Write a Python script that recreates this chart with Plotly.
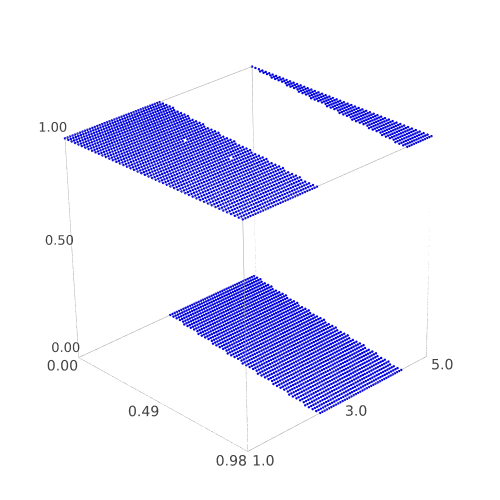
import plotly.graph_objects as go

# grid levels
x_levels = [0.00, 0.02, 0.04, 0.06, 0.08, 0.10, 0.12, 0.14, 0.16, 0.18,
            0.20, 0.22, 0.24, 0.26, 0.28, 0.30, 0.32, 0.34, 0.36, 0.38,
            0.40, 0.42, 0.44, 0.46, 0.48, 0.50, 0.52, 0.54, 0.56, 0.58,
            0.60, 0.62, 0.64, 0.66, 0.68, 0.70, 0.72, 0.74, 0.76, 0.78,
            0.80, 0.82, 0.84, 0.86, 0.88, 0.90, 0.92, 0.94, 0.96, 0.98]
y_levels = [1.00, 1.05, 1.10, 1.15, 1.20, 1.25, 1.30, 1.35, 1.40, 1.45,
            1.50, 1.55, 1.60, 1.65, 1.70, 1.75, 1.80, 1.85, 1.90, 1.95,
            2.00, 2.05, 2.10, 2.15, 2.20, 2.25, 2.30, 2.35, 2.40, 2.45,
            2.50, 2.55, 2.60, 2.65, 2.70, 2.75, 2.80, 2.85, 2.90, 2.95,
            3.00, 3.05, 3.10, 3.15, 3.20, 3.25, 3.30, 3.35, 3.40, 3.45,
            3.50, 3.55, 3.60, 3.65, 3.70, 3.75, 3.80, 3.85, 3.90, 3.95,
            4.00, 4.05, 4.10, 4.15, 4.20, 4.25, 4.30, 4.35, 4.40, 4.45,
            4.50, 4.55, 4.60, 4.65, 4.70, 4.75, 4.80, 4.85, 4.90, 4.95, 5.00]

# for each x level: where the output drops to 0 and where it comes back to 1
drop_y = [2.95, 2.95, 2.95, 2.95, 2.95, 2.90, 2.90, 2.90, 2.90, 2.90,
          2.85, 2.85, 2.85, 2.85, 2.85, 2.80, 2.80, 2.80, 2.80, 2.80,
          2.75, 2.75, 2.75, 2.75, 2.75, 2.70, 2.70, 2.70, 2.70, 2.70,
          2.65, 2.65, 2.65, 2.65, 2.65, 2.60, 2.60, 2.60, 2.60, 2.60,
          2.55, 2.55, 2.55, 2.55, 2.55, 2.50, 2.50, 2.50, 2.50, 2.50]
rise_y = [5.00, 5.00, 5.00, 4.95, 4.95, 4.95, 4.95, 4.90, 4.90, 4.90,
          4.90, 4.90, 4.85, 4.85, 4.85, 4.85, 4.80, 4.80, 4.80, 4.80,
          4.75, 4.75, 4.75, 4.75, 4.75, 4.70, 4.70, 4.70, 4.70, 4.65,
          4.65, 4.65, 4.65, 4.60, 4.60, 4.60, 4.60, 4.60, 4.55, 4.55,
          4.55, 4.55, 4.50, 4.50, 4.50, 4.50, 4.45, 4.45, 4.45, 4.45]

# points missing from the top sheet
missing = [(0.34, 2.25), (0.58, 2.30)]

x_range = [0, 0.98]
y_range = [1, 5]
z_range = [0, 1]
z_ticks = [0, 0.5, 1]
z_tick_text = ["0.00", "0.50", "1.00"]

x_vals, y_vals, z_vals = [], [], []
for x, drop, rise in zip(x_levels, drop_y, rise_y):
    for y in y_levels:
        if (x, y) in missing:
            continue
        x_vals.append(x)
        y_vals.append(y)
        z_vals.append(0.0 if drop < y < rise else 1.0)

# plotly only draws the silhouette of the box, so the 12 edges go in as a trace
edge_x, edge_y, edge_z = [], [], []
for a in x_range:
    for b in y_range:
        edge_x += [a, a, None]
        edge_y += [b, b, None]
        edge_z += [z_range[0], z_range[1], None]
for a in x_range:
    for c in z_range:
        edge_x += [a, a, None]
        edge_y += [y_range[0], y_range[1], None]
        edge_z += [c, c, None]
for b in y_range:
    for c in z_range:
        edge_x += [x_range[0], x_range[1], None]
        edge_y += [b, b, None]
        edge_z += [c, c, None]

tick_font = dict(family="DejaVu Sans", size=13, color="#444444")

fig = go.Figure()
fig.add_trace(go.Scatter3d(
    x=edge_x, y=edge_y, z=edge_z, mode="lines",
    line=dict(color="#a0a0a0", width=1), hoverinfo="skip",
))
fig.add_trace(go.Scatter3d(
    x=x_vals, y=y_vals, z=z_vals, mode="markers",
    marker=dict(size=1.4, color="#0000dd", line=dict(width=0)),
))
# z labels sit above the left edge, plotly's own would collide with the x axis ones
# 0.085 nudges the text anchor in along x so it lands next to the edge
fig.add_trace(go.Scatter3d(
    x=[0.085] * len(z_ticks), y=[y_range[0]] * len(z_ticks), z=z_ticks,
    mode="text", text=z_tick_text, textposition="top left", textfont=tick_font,
    hoverinfo="skip",
))

axis_style = dict(
    title="", showgrid=False, zeroline=False, showbackground=False, showspikes=False,
    showline=False, ticks="", ticklen=0, tickwidth=0, tickangle=0, tickfont=tick_font,
)

# the reference has a very long lens, plotly's fov is fixed, so render on a big
# canvas from far away and show only the middle of it
fig.update_layout(
    width=1800, height=1800,
    margin=dict(l=0, r=0, t=0, b=0),
    paper_bgcolor="white",
    showlegend=False,
    scene=dict(
        xaxis=dict(range=x_range, tickvals=[0, 0.49, 0.98], ticktext=["0.00", "0.49", "0.98"], **axis_style),
        yaxis=dict(range=y_range, tickvals=[1, 3, 5], ticktext=["1.0", "3.0", "5.0"], **axis_style),
        zaxis=dict(range=z_range, tickvals=z_ticks, showticklabels=False, **axis_style),
        aspectmode="manual",
        aspectratio=dict(x=1, y=1, z=0.98),
        dragmode="orbit",
        camera=dict(eye=dict(x=5.58, y=-5.22, z=3.96), up=dict(x=0.012, y=0.013, z=1)),
    ),
)

crop = """
var d = document.getElementById('{plot_id}');
d.style.position = 'absolute';
d.style.left = '-650px';
d.style.top = '-650px';
document.documentElement.style.overflow = 'hidden';
document.body.style.overflow = 'hidden';
"""
fig.write_html("out.html", post_script=crop)
